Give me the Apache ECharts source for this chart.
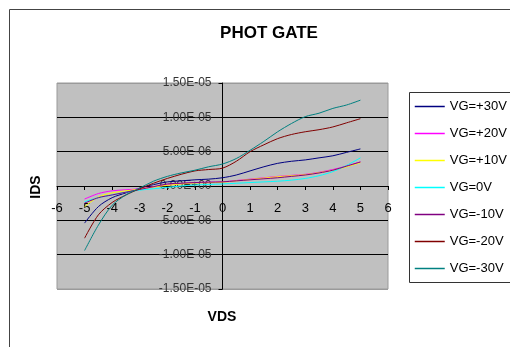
<!DOCTYPE html>
<html>
<head>
<meta charset="utf-8">
<script src="https://cdn.jsdelivr.net/npm/echarts@6/dist/echarts.min.js"></script>
<style>
  html, body { margin: 0; padding: 0; background: #fff; }
  #chart { width: 510px; height: 347px; }
</style>
</head>
<body>
<div id="chart"></div>
<script>
// VDS sample points
var vds = [-5, -4.5, -4, -3.5, -3, -2.5, -2, -1.5, -1, -0.5, 0, 0.5, 1, 1.5, 2, 2.5, 3, 3.5, 4, 4.5, 5];

// IDS readings, units of 1e-6 A
var vgP30 = [-5.4, -3.0, -1.7, -1.0, -0.3, 0.2, 0.6, 0.75, 0.9, 1.0, 1.2, 1.6, 2.2, 2.8, 3.3, 3.6, 3.8, 4.1, 4.4, 4.9, 5.4];
var vgP20 = [-1.9, -1.1, -0.7, -0.55, -0.4, -0.1, 0.15, 0.35, 0.5, 0.55, 0.6, 0.8, 1.0, 1.2, 1.4, 1.55, 1.7, 2.0, 2.4, 2.9, 3.5];
var vgP10 = [-3.0, -1.6, -1.0, -0.7, -0.45, -0.15, 0.1, 0.3, 0.45, 0.5, 0.55, 0.75, 0.95, 1.15, 1.35, 1.5, 1.65, 1.95, 2.3, 2.8, 3.4];
var vg0 = [-2.3, -1.7, -1.3, -0.9, -0.6, -0.4, -0.2, 0.0, 0.15, 0.22, 0.3, 0.4, 0.5, 0.6, 0.7, 0.85, 1.1, 1.5, 2.1, 3.0, 4.1];
var vgM10 = [-2.5, -1.7, -1.3, -0.9, -0.5, -0.1, 0.3, 0.4, 0.5, 0.55, 0.6, 0.75, 0.9, 1.05, 1.2, 1.4, 1.6, 1.9, 2.3, 2.9, 3.5];
var vgM20 = [-7.6, -4.2, -2.4, -1.3, -0.4, 0.4, 1.1, 1.7, 2.2, 2.4, 2.6, 3.6, 5.0, 6.0, 6.9, 7.5, 7.9, 8.2, 8.6, 9.2, 9.8];
var vgM30 = [-9.4, -5.7, -2.8, -1.3, -0.3, 0.7, 1.4, 1.9, 2.3, 2.8, 3.2, 4.0, 5.2, 6.5, 7.9, 9.1, 10.1, 10.6, 11.3, 11.8, 12.5];

var seriesNames = ['VG=+30V', 'VG=+20V', 'VG=+10V', 'VG=0V', 'VG=-10V', 'VG=-20V', 'VG=-30V'];
var seriesColors = ['#000080', '#ff00ff', '#ffff00', '#00ffff', '#800080', '#800000', '#008080'];
var seriesData = [vgP30, vgP20, vgP10, vg0, vgM10, vgM20, vgM30];

var yTickLabels = {
  '-15': '-1.50E-05',
  '-10': '-1.00E-05',
  '-5': '-5.00E-06',
  '0': '0.00E+00',
  '5': '5.00E-06',
  '10': '1.00E-05',
  '15': '1.50E-05'
};

var font = '"Liberation Sans", Arial';

function pairs(arr) {
  var out = [];
  for (var i = 0; i < vds.length; i++) {
    out.push([vds[i], arr[i] * 1e-6]);
  }
  return out;
}

var myChart = echarts.init(document.getElementById('chart'));

var series = [];
for (var k = 0; k < seriesNames.length; k++) {
  series.push({
    name: seriesNames[k],
    type: 'line',
    data: pairs(seriesData[k]),
    symbol: 'none',
    smooth: 0.3,
    lineStyle: { color: seriesColors[k], width: 1 },
    itemStyle: { color: seriesColors[k] }
  });
}

var option = {
  animation: false,
  backgroundColor: '#fff',
  title: {
    text: 'PHOT GATE',
    left: 264,
    top: 20,
    textAlign: 'center',
    textStyle: { fontFamily: font, fontSize: 17, fontWeight: 'bold', color: '#000' }
  },
  grid: {
    left: 57,
    top: 83,
    width: 331,
    height: 206,
    show: true,
    backgroundColor: '#c0c0c0',
    borderColor: '#9a9a9a',
    borderWidth: 1
  },
  legend: {
    orient: 'vertical',
    left: 414,
    top: 100,
    padding: 0,
    itemWidth: 30,
    itemHeight: 14,
    itemGap: 14,
    itemStyle: { opacity: 0 },
    lineStyle: { width: 1.5 },
    data: seriesNames,
    textStyle: { fontFamily: font, fontSize: 13, color: '#000' }
  },
  xAxis: {
    type: 'value',
    min: -6,
    max: 6,
    interval: 1,
    position: 'bottom',
    offset: -103,
    axisLine: { onZero: false, lineStyle: { color: '#000', width: 1 } },
    axisTick: { show: true, inside: false, length: 4, lineStyle: { color: '#000' } },
    axisLabel: { color: '#000', fontFamily: font, fontSize: 13, margin: 16 },
    splitLine: { show: false }
  },
  yAxis: {
    type: 'value',
    min: -0.000015,
    max: 0.000015,
    interval: 0.000005,
    position: 'left',
    offset: -165.5,
    axisLine: { onZero: false, lineStyle: { color: '#000', width: 1 } },
    axisTick: { show: true, length: 4, lineStyle: { color: '#000' } },
    axisLabel: {
      color: '#333',
      fontFamily: font,
      fontSize: 12,
      margin: 11,
      formatter: function (v) {
        var key = String(Math.round(v * 1e6));
        return yTickLabels[key] || v.toExponential(2).toUpperCase();
      }
    },
    splitLine: {
      show: true,
      lineStyle: { color: ['#9a9a9a', '#000', '#000', '#000', '#000', '#000', '#9a9a9a'], width: 1 }
    }
  },
  graphic: [
    {
      type: 'rect',
      shape: { x: 9.5, y: 9.5, width: 600, height: 400 },
      style: { fill: null, stroke: '#444', lineWidth: 1 },
      silent: true,
      z: -1
    },
    {
      type: 'rect',
      shape: { x: 409.5, y: 92.5, width: 150, height: 190 },
      style: { fill: '#fff', stroke: '#333', lineWidth: 1 },
      silent: true,
      z: -1
    },
    {
      type: 'text',
      x: 36,
      y: 187,
      rotation: Math.PI / 2,
      style: {
        text: 'IDS',
        fill: '#000',
        font: 'bold 14px "Liberation Sans", Arial',
        textAlign: 'center',
        textVerticalAlign: 'middle'
      }
    },
    {
      type: 'text',
      x: 222,
      y: 317,
      style: {
        text: 'VDS',
        fill: '#000',
        font: 'bold 14px "Liberation Sans", Arial',
        textAlign: 'center',
        textVerticalAlign: 'middle'
      }
    }
  ],
  series: series
};

myChart.setOption(option);
</script>
</body>
</html>
